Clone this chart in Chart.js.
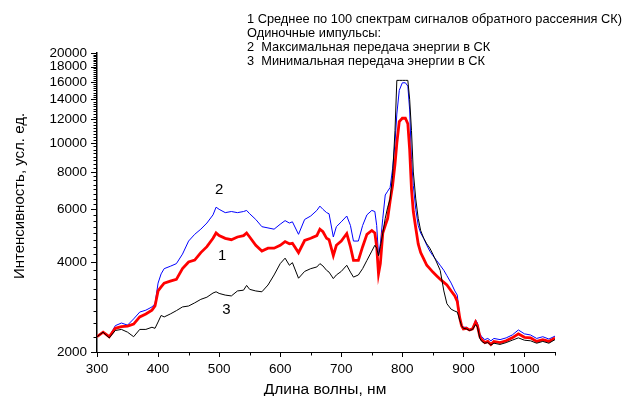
<!DOCTYPE html>
<html>
<head>
<meta charset="utf-8">
<script src="https://cdn.jsdelivr.net/npm/chart.js@4/dist/chart.umd.min.js"></script>
<style>
html,body{margin:0;padding:0;background:#fff;}
#wrap{width:624px;height:396px;position:relative;}
</style>
</head>
<body>
<div id="wrap"><canvas id="c" width="624" height="396"></canvas></div>
<script>
// Wavelength, nm
const wavelengths = [
  300,310,320,330,340,350,360,370,380,390,
  395,400,405,410,420,430,440,450,460,470,480,490,
  495,500,510,520,530,540,545,550,560,570,580,590,600,
  608,615,620,630,640,650,660,665,670,676,680,687,692,700,
  709,715,720,728,735,742,750,755,758,761,
  764,768,772,776,780,784,788,791,795,800,805,809,812,815,818,
  822,826,830,835,840,845,850,856,862,868,873,880,886,890,
  894,897,900,905,910,915,920,923,927,930,935,940,945,950,
  960,970,980,990,1000,1010,1020,1030,1040,1050
];
// 2: maximal energy transfer (blue)
const seriesMax = [
  2250,2330,2250,2450,2500,2460,2580,2720,2760,2830,
  2900,3400,3650,3800,3870,3950,4250,4700,4950,5150,5400,5750,
  6100,6000,5850,5900,5850,5900,5950,5800,5550,5250,5200,5150,5350,
  5500,5400,5450,4950,5550,5700,5950,6150,6000,5850,5800,4850,5250,5450,
  5700,5300,4700,4700,5300,5750,5950,5900,5300,4200,
  4600,5600,6700,6900,7100,8200,10000,12500,15000,15900,15900,15500,12900,8800,7200,
  6000,5300,5000,4800,4550,4350,4200,4050,3900,3750,3600,3400,3200,3100,
  2600,2450,2420,2420,2380,2400,2560,2500,2300,2250,2200,2220,2180,2220,
  2200,2230,2280,2370,2300,2280,2220,2250,2210,2260
];
// 1: average over 100 spectra (red)
const seriesAvg = [
  2250,2330,2250,2400,2430,2440,2480,2620,2680,2760,
  2850,3200,3300,3400,3450,3500,3800,4000,4060,4300,4500,4800,
  5000,4900,4800,4750,4850,4900,5000,4850,4550,4350,4450,4450,4550,
  4680,4600,4620,4300,4720,4800,4900,5150,5050,4800,4750,4200,4550,4700,
  4980,4500,4050,4050,4500,4950,5100,5000,4500,3650,
  3950,5000,5300,5600,6400,7200,8500,10000,11800,12100,12100,11600,9500,7000,5900,
  5200,4600,4300,4100,3900,3800,3700,3600,3500,3420,3350,3200,3080,2950,
  2600,2450,2390,2400,2370,2390,2520,2450,2250,2200,2150,2170,2120,2170,
  2150,2180,2230,2300,2240,2230,2170,2200,2170,2230
];
// 3: minimal energy transfer (black)
const seriesMin = [
  2250,2330,2230,2360,2380,2330,2250,2380,2380,2420,
  2400,2520,2650,2620,2680,2750,2830,2850,2920,3000,3050,3150,
  3180,3140,3100,3080,3200,3220,3340,3240,3200,3180,3350,3620,3950,
  4120,3900,3980,3530,3720,3800,3850,3950,3880,3750,3700,3520,3620,3720,
  3900,3700,3560,3620,3800,4050,4350,4550,4450,4200,
  4500,5000,5600,6100,6500,7800,11000,16200,16200,16200,16200,16200,14000,11000,8000,
  6500,5600,5100,4800,4600,4450,4250,4000,3750,3200,2900,2780,2740,2720,
  2560,2450,2400,2390,2360,2380,2470,2420,2220,2170,2140,2150,2110,2140,
  2120,2150,2190,2230,2190,2180,2140,2170,2140,2200
];
const xTickValues = [300,400,500,600,700,800,900,1000];
const yTickValues = [2000,4000,6000,8000,10000,12000,14000,16000,18000,20000];
const legendLines = [
  '1 Среднее по 100 спектрам сигналов обратного рассеяния СК)',
  'Одиночные импульсы:',
  '2  Максимальная передача энергии в СК',
  '3  Минимальная передача энергии в СК'
];
const curveLabels = ['2','1','3'];
const xTitle = 'Длина волны, нм';
const yTitle = 'Интенсивность, усл. ед.';

const FONT = "'Liberation Sans', Arial, sans-serif";
const toPts = arr => arr.map((v,i)=>({x:wavelengths[i], y:v}));

const decor = {
  id:'decor',
  afterDraw(chart){
    const ctx = chart.ctx, xs = chart.scales.x, ys = chart.scales.y;
    const a = chart.chartArea;
    ctx.save();
    ctx.strokeStyle = '#000'; ctx.lineWidth = 1;
    for(let v=300; v<=1050; v+=50){
      const px = Math.round(xs.getPixelForValue(v))+0.5;
      const len = (v%100===0)?5:3.5;
      ctx.beginPath(); ctx.moveTo(px,a.bottom); ctx.lineTo(px,a.bottom+len); ctx.stroke();
    }
    for(let v=2000; v<=20000; v+=250){
      const py = Math.round(ys.getPixelForValue(v))+0.5;
      const len = (v%2000===0)?6:3.5;
      ctx.beginPath(); ctx.moveTo(a.left,py); ctx.lineTo(a.left-len,py); ctx.stroke();
    }
    ctx.fillStyle = '#000';
    ctx.font = '12.8px '+FONT; ctx.textAlign='left'; ctx.textBaseline='middle';
    legendLines.forEach((t,i)=>ctx.fillText(t, 247, 19.5+i*14));
    ctx.font = '15px '+FONT; ctx.textAlign='center';
    const lp = [[500,6950],[505,4180],[512,2770]];
    curveLabels.forEach((t,i)=>ctx.fillText(t, xs.getPixelForValue(lp[i][0]), ys.getPixelForValue(lp[i][1])));
    ctx.font = '15.5px '+FONT;
    ctx.fillText(xTitle, 325, 390);
    ctx.translate(20, 196); ctx.rotate(-Math.PI/2);
    ctx.font = '15px '+FONT;
    ctx.fillText(yTitle, 0, 0);
    ctx.restore();
  }
};

new Chart(document.getElementById('c'), {
  type:'line',
  data:{datasets:[
    {label:'3', data:toPts(seriesMin), borderColor:'#000000', borderWidth:1, pointRadius:0, tension:0},
    {label:'1', data:toPts(seriesAvg), borderColor:'#ff0000', borderWidth:2.8, pointRadius:0, tension:0},
    {label:'2', data:toPts(seriesMax), borderColor:'#0000ff', borderWidth:1, pointRadius:0, tension:0}
  ]},
  options:{
    responsive:false, animation:false, devicePixelRatio:1,
    layout:{padding:{left:0, top:53, right:69, bottom:0}},
    plugins:{legend:{display:false}, tooltip:{enabled:false}},
    scales:{
      x:{type:'linear', min:300, max:1050,
        grid:{display:false}, border:{display:true, color:'#000', width:1},
        afterBuildTicks:s=>{s.ticks = xTickValues.map(v=>({value:v}));},
        afterFit:s=>{s.height = 44;},
        ticks:{color:'#000', font:{family:FONT, size:13.5}, padding:1, maxRotation:0, autoSkip:false,
          callback:v=>String(v)}
      },
      y:{type:'logarithmic', min:2000, max:20000,
        grid:{display:false}, border:{display:true, color:'#000', width:1.5},
        afterBuildTicks:s=>{s.ticks = yTickValues.map(v=>({value:v}));},
        afterFit:s=>{s.width = 97;},
        ticks:{color:'#000', font:{family:FONT, size:13.5}, padding:2, autoSkip:false,
          callback:v=>String(v)}
      }
    }
  },
  plugins:[decor]
});
</script>
</body>
</html>
